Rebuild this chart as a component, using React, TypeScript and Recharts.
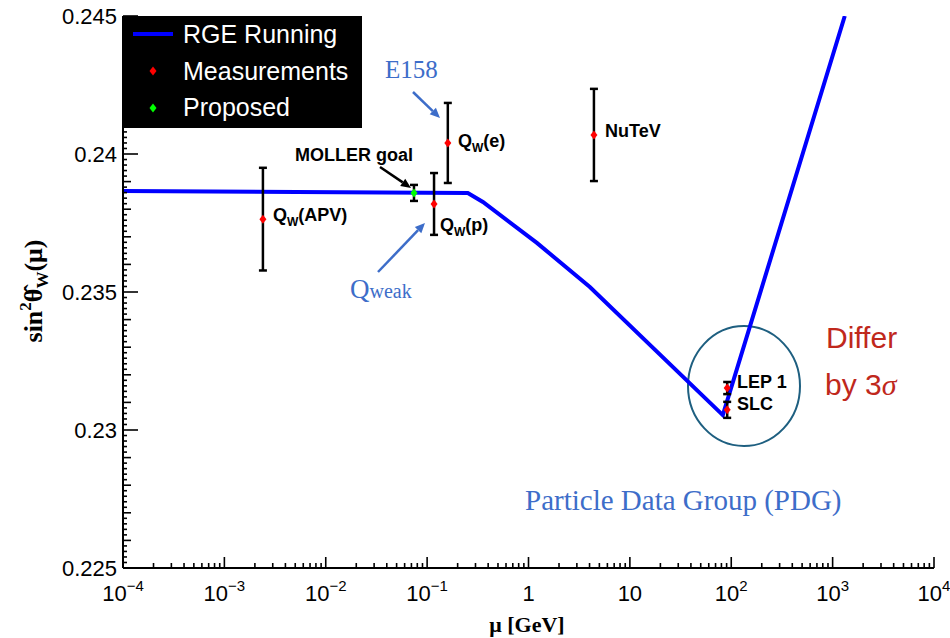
import { ComposedChart, Line, Scatter, ErrorBar, XAxis, YAxis, Legend } from "recharts";

// RGE running curve of sin^2(theta_W) vs mu [GeV]
const rgeMu = [0.0001, 0.252, 0.355, 1.21, 4.03, 82.6, 1318];
const rgeSin2 = [0.23866, 0.23859, 0.23826, 0.23678, 0.23518, 0.23054, 0.245];

// measurements (red)
const measNames = ["Q_W(APV)", "Q_W(p)", "Q_W(e)", "NuTeV", "LEP 1", "SLC"];
const measMu = [0.0024, 0.117, 0.16, 4.42, 91.19, 91.19];
const measSin2 = [0.23764, 0.23819, 0.2404, 0.24069, 0.23152, 0.23073];
const measErr = [0.00186, 0.00112, 0.00145, 0.00167, 0.00022, 0.00029];

// proposed (green)
const proposedNames = ["MOLLER goal"];
const proposedMu = [0.0742];
const proposedSin2 = [0.23859];
const proposedErr = [0.00029];

const xMajorTicks = [1e-4, 1e-3, 1e-2, 1e-1, 1, 10, 100, 1e3, 1e4];
const xTickBase = ["10", "10", "10", "10", "1", "10", "10", "10", "10"];
const xTickExp = ["−4", "−3", "−2", "−1", "", "", "2", "3", "4"];
const yMajorTicks = [0.225, 0.23, 0.235, 0.24, 0.245];
const yTickLabels = ["0.225", "0.23", "0.235", "0.24", "0.245"];

const rgeData = rgeMu.map((mu, i) => ({ mu, s2w: rgeSin2[i] }));
const measData = measMu.map((mu, i) => ({ name: measNames[i], mu, s2w: measSin2[i], err: measErr[i] }));
const proposedData = proposedMu.map((mu, i) => ({ name: proposedNames[i], mu, s2w: proposedSin2[i], err: proposedErr[i] }));

const xTicks: number[] = [];
xMajorTicks.forEach((d, i) => {
    xTicks.push(d);
    if (i < xMajorTicks.length - 1) {
        for (let k = 2; k <= 9; k++) xTicks.push(k * d);
    }
});
const yTicks: number[] = [];
for (let n = 0; n <= 100; n++) yTicks.push(yMajorTicks[0] + n * 0.0002);

const SANS = "'Liberation Sans', Arial, Helvetica, sans-serif";
const SERIF = "'Liberation Serif', 'Times New Roman', serif";
const ANNO_BLUE = "#3d6dc9";

function majorIndex(v: number) {
    return xMajorTicks.findIndex((t) => Math.abs(t - v) / t < 1e-6);
}

function yStep(v: number) {
    return Math.round((v - 0.225) / 0.0002);
}

function BottomTick(props: any) {
    const { x, y, payload } = props;
    const i = majorIndex(payload.value);
    return (
        <g>
            <line x1={x} x2={x} y1={y} y2={y - (i >= 0 ? 11 : 5)} stroke="#000" strokeWidth={1.6} />
            {i >= 0 && (
                <text x={x} y={y + 33} textAnchor="middle" fontSize={22} fontFamily={SANS} fill="#000">
                    {xTickBase[i]}
                    {xTickExp[i] && (
                        <tspan dy={-10} fontSize={15}>
                            {xTickExp[i]}
                        </tspan>
                    )}
                </text>
            )}
        </g>
    );
}

function TopTick(props: any) {
    const { x, y, payload } = props;
    const i = majorIndex(payload.value);
    return <line x1={x} x2={x} y1={y} y2={y + (i >= 0 ? 11 : 5)} stroke="#000" strokeWidth={1.6} />;
}

function tickLen(n: number) {
    return n % 25 === 0 ? 15 : n % 5 === 0 ? 8 : 4;
}

function LeftTick(props: any) {
    const { x, y, payload } = props;
    const n = yStep(payload.value);
    return (
        <g>
            <line x1={x} x2={x + tickLen(n)} y1={y} y2={y} stroke="#000" strokeWidth={1.6} />
            {n % 25 === 0 && (
                <text x={x - 6} y={y + 8} textAnchor="end" fontSize={22} fontFamily={SANS} fill="#000">
                    {yTickLabels[n / 25]}
                </text>
            )}
        </g>
    );
}

function RightTick(props: any) {
    const { x, y, payload } = props;
    const n = yStep(payload.value);
    return <line x1={x} x2={x - tickLen(n)} y1={y} y2={y} stroke="#000" strokeWidth={1.6} />;
}

function Diamond(color: string) {
    return (props: any) => {
        const { cx, cy } = props;
        if (cx == null || cy == null) return <g />;
        return <polygon points={`${cx},${cy - 4.5} ${cx + 3.5},${cy} ${cx},${cy + 4.5} ${cx - 3.5},${cy}`} fill={color} />;
    };
}

function Arrow({ x1, y1, x2, y2, color }: { x1: number; y1: number; x2: number; y2: number; color: string }) {
    const a = Math.atan2(y2 - y1, x2 - x1);
    const h = 10;
    const w = 4.5;
    const bx = x2 - h * Math.cos(a);
    const by = y2 - h * Math.sin(a);
    const px = -Math.sin(a) * w;
    const py = Math.cos(a) * w;
    return (
        <g>
            <line x1={x1} y1={y1} x2={bx} y2={by} stroke={color} strokeWidth={2.5} />
            <polygon points={`${x2},${y2} ${bx + px},${by + py} ${bx - px},${by - py}`} fill={color} />
        </g>
    );
}

function QLabel({ x, y, arg }: { x: number; y: number; arg: string }) {
    return (
        <text x={x} y={y} fontSize={18} fontWeight="bold" fontFamily={SANS} fill="#000">
            Q
            <tspan dy={5} fontSize={12}>W</tspan>
            <tspan dy={-5}>({arg})</tspan>
        </text>
    );
}

function LegendBox() {
    return (
        <svg width={239} height={112} style={{ display: "block" }}>
            <rect x={0} y={0} width={239} height={112} fill="#000" />
            <line x1={10} x2={50} y1={18} y2={18} stroke="#0000ff" strokeWidth={4} />
            <text x={60} y={27} fontSize={25} fontFamily={SANS} fill="#fff">RGE Running</text>
            <polygon points="30,50.5 33.5,55 30,59.5 26.5,55" fill="#ff0000" />
            <text x={60} y={64} fontSize={25} fontFamily={SANS} fill="#fff">Measurements</text>
            <polygon points="30,87.5 33.5,92 30,96.5 26.5,92" fill="#00ff00" />
            <text x={60} y={100} fontSize={25} fontFamily={SANS} fill="#fff">Proposed</text>
        </svg>
    );
}

export default function App() {
    return (
        <div style={{ position: "absolute", left: 0, top: 0, width: 950, height: 638, overflow: "hidden" }}>
            <ComposedChart width={950} height={638} margin={{ top: 16, right: 16, bottom: 0, left: 0 }}>
                <XAxis
                    xAxisId={0}
                    dataKey="mu"
                    type="number"
                    scale="log"
                    domain={[1e-4, 1e4]}
                    allowDataOverflow
                    ticks={xTicks}
                    interval={0}
                    tickSize={0}
                    tickMargin={0}
                    tickLine={false}
                    tick={<BottomTick />}
                    height={70}
                    axisLine={{ stroke: "#000", strokeWidth: 2 }}
                />
                <XAxis
                    xAxisId="top"
                    orientation="top"
                    dataKey="mu"
                    type="number"
                    scale="log"
                    domain={[1e-4, 1e4]}
                    allowDataOverflow
                    ticks={xTicks}
                    interval={0}
                    tickSize={0}
                    tickMargin={0}
                    tickLine={false}
                    tick={<TopTick />}
                    height={0}
                    axisLine={{ stroke: "#000", strokeWidth: 2 }}
                />
                <YAxis
                    yAxisId={0}
                    type="number"
                    domain={[0.225, 0.245]}
                    allowDataOverflow
                    ticks={yTicks}
                    interval={0}
                    tickSize={0}
                    tickMargin={0}
                    tickLine={false}
                    tick={<LeftTick />}
                    width={123}
                    axisLine={{ stroke: "#000", strokeWidth: 2 }}
                />
                <YAxis
                    yAxisId="right"
                    orientation="right"
                    type="number"
                    domain={[0.225, 0.245]}
                    allowDataOverflow
                    ticks={yTicks}
                    interval={0}
                    tickSize={0}
                    tickMargin={0}
                    tickLine={false}
                    tick={<RightTick />}
                    width={0}
                    axisLine={{ stroke: "#000", strokeWidth: 2 }}
                />
                <Legend
                    layout="horizontal"
                    verticalAlign="middle"
                    align="center"
                    content={() => <LegendBox />}
                    wrapperStyle={{ left: 123, top: 16, width: 239, height: 112 }}
                />
                <Line
                    data={rgeData}
                    dataKey="s2w"
                    name="RGE Running"
                    type="linear"
                    stroke="#0000ff"
                    strokeWidth={4}
                    dot={false}
                    isAnimationActive={false}
                />
                <Scatter data={measData} dataKey="s2w" name="Measurements" fill="#ff0000" shape={Diamond("#ff0000")} isAnimationActive={false}>
                    <ErrorBar dataKey="err" direction="y" width={4} stroke="#000" strokeWidth={2.5} isAnimationActive={false} />
                </Scatter>
                <Scatter data={proposedData} dataKey="s2w" name="Proposed" fill="#00ff00" shape={Diamond("#00ff00")} isAnimationActive={false}>
                    <ErrorBar dataKey="err" direction="y" width={4} stroke="#000" strokeWidth={2.5} isAnimationActive={false} />
                </Scatter>

                {/* annotations (page coordinates) */}
                <g>
                    <text x={295} y={161} fontSize={18} fontWeight="bold" fontFamily={SANS} fill="#000">MOLLER goal</text>
                    <Arrow x1={380} y1={167} x2={411} y2={188} color="#000" />
                    <QLabel x={273} y={221} arg="APV" />
                    <QLabel x={440} y={231} arg="p" />
                    <QLabel x={458} y={147} arg="e" />
                    <text x={605} y={137} fontSize={18} fontWeight="bold" fontFamily={SANS} fill="#000">NuTeV</text>
                    <text x={737} y={388} fontSize={18} fontWeight="bold" fontFamily={SANS} fill="#000">LEP 1</text>
                    <text x={737} y={410} fontSize={18} fontWeight="bold" fontFamily={SANS} fill="#000">SLC</text>
                    <text x={385} y={78} fontSize={25} fontFamily={SERIF} fill={ANNO_BLUE}>E158</text>
                    <Arrow x1={413} y1={92} x2={440} y2={118} color={ANNO_BLUE} />
                    <text x={350} y={298} fontSize={27} fontFamily={SERIF} fill={ANNO_BLUE}>
                        Q<tspan fontSize={20}>weak</tspan>
                    </text>
                    <Arrow x1={378} y1={272} x2={425} y2={223} color={ANNO_BLUE} />
                    <ellipse cx={744} cy={386} rx={56} ry={60} fill="none" stroke="#1e5f80" strokeWidth={2} />
                    <text x={826} y={348} fontSize={30} fontFamily={SANS} fill="#c0281c">Differ</text>
                    <text x={825} y={395} fontSize={30} fontFamily={SANS} fill="#c0281c">
                        by 3<tspan fontFamily={SERIF} fontStyle="italic">σ</tspan>
                    </text>
                    <text x={525} y={510} fontSize={29} fontFamily={SERIF} fill={ANNO_BLUE}>Particle Data Group (PDG)</text>
                    <text transform="rotate(-90)" x={-291} y={42} textAnchor="middle" fontSize={26} fontWeight="bold" fontFamily={SERIF} fill="#000">
                        sin<tspan dy={-11} fontSize={17}>2</tspan>
                        <tspan dy={11}>θ̂</tspan>
                        <tspan dy={6} fontSize={17}>W</tspan>
                        <tspan dy={-6}>(μ)</tspan>
                    </text>
                    <text x={527} y={632} textAnchor="middle" fontSize={22} fontWeight="bold" fontFamily={SERIF} fill="#000">μ [GeV]</text>
                </g>
            </ComposedChart>
        </div>
    );
}
